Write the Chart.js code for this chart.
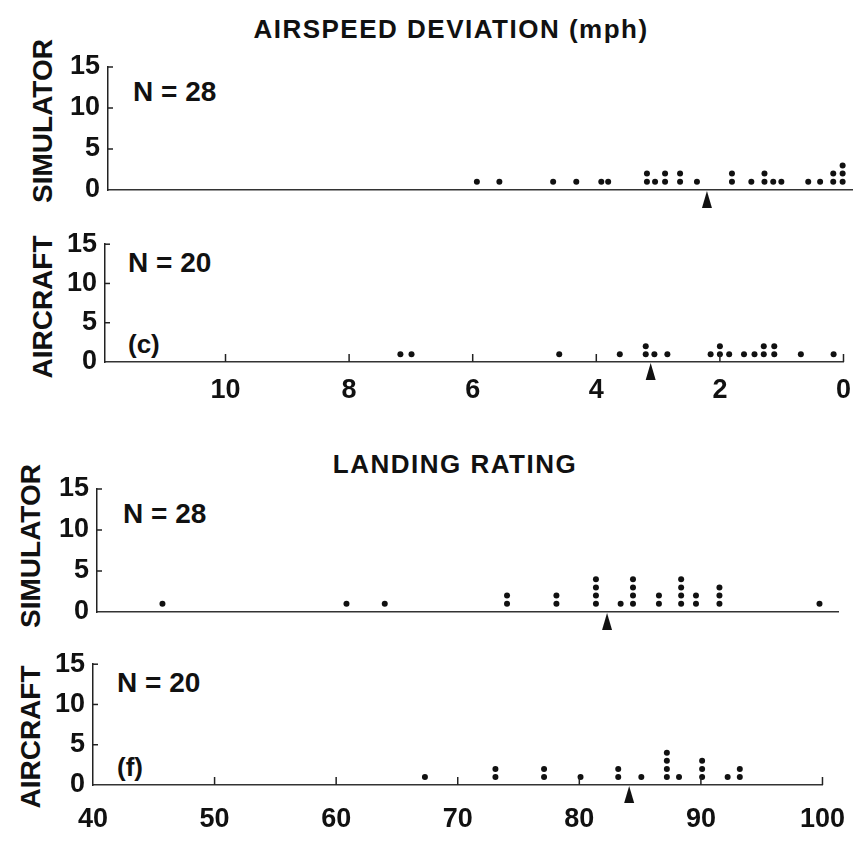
<!DOCTYPE html>
<html>
<head>
<meta charset="utf-8">
<title>Airspeed deviation and landing rating</title>
<script src="https://cdn.jsdelivr.net/npm/chart.js@4.4.0/dist/chart.umd.min.js"></script>
<style>
  body { margin: 0; background: #fff; }
  #page {
    position: relative; width: 863px; height: 845px; overflow: hidden;
    font-family: 'Liberation Sans', Arial, sans-serif; font-weight: bold; color: #111;
  }
  canvas { position: absolute; left: 0; }
  .title { position: absolute; white-space: nowrap; line-height: 1; font-size: 26px;
           letter-spacing: 1.5px; transform: translate(-50%, -50%); }
  .side { position: absolute; white-space: nowrap; line-height: 1; font-size: 28px;
          transform: translate(-50%, -50%) rotate(-90deg); }
  .lab { position: absolute; white-space: nowrap; line-height: 1; font-size: 28px;
         transform: translateY(-50%); }
  .tag { font-size: 26px; }
</style>
</head>
<body>
<div id="page">
  <div class="title" style="left:451px; top:29px;">AIRSPEED DEVIATION (mph)</div>
  <div class="side" style="left:43px; top:121px;">SIMULATOR</div>
  <div class="side" style="left:43px; top:307px;">AIRCRAFT</div>
  <div class="lab" id="nAirSim" style="left:133px; top:92px;"></div>
  <div class="lab" id="nAirAc" style="left:128px; top:263px;"></div>
  <div class="lab tag" style="left:128px; top:344px;">(c)</div>

  <div class="title" style="left:455px; top:464px;">LANDING RATING</div>
  <div class="side" style="left:31px; top:546px;">SIMULATOR</div>
  <div class="side" style="left:31px; top:737px;">AIRCRAFT</div>
  <div class="lab" id="nLandSim" style="left:123px; top:514px;"></div>
  <div class="lab" id="nLandAc" style="left:117px; top:683px;"></div>
  <div class="lab tag" style="left:117px; top:767px;">(f)</div>

  <canvas id="airSim" width="863" height="180" style="top:40px;"></canvas>
  <canvas id="airAc" width="863" height="210" style="top:220px;"></canvas>
  <canvas id="landSim" width="863" height="200" style="top:440px;"></canvas>
  <canvas id="landAc" width="863" height="205" style="top:640px;"></canvas>
</div>
<script>
// Airspeed deviation (mph): column positions and number of pilots in each column
const airSimValues = [6.0, 5.64, 4.78, 4.41, 4.01, 3.9, 3.28, 3.15, 2.99, 2.75, 2.48, 1.92, 1.61, 1.4, 1.26, 1.13, 0.7, 0.51, 0.3, 0.15];
const airSimCounts = [1, 1, 1, 1, 1, 1, 2, 1, 2, 2, 1, 2, 1, 2, 1, 1, 1, 1, 2, 3];
const airSimMean = 2.32;

const airAcValues = [7.17, 6.99, 4.6, 3.62, 3.2, 3.06, 2.85, 2.15, 2.0, 1.85, 1.61, 1.44, 1.29, 1.12, 0.69, 0.16];
const airAcCounts = [1, 1, 1, 1, 2, 1, 1, 1, 2, 1, 1, 1, 2, 2, 1, 1];
const airAcMean = 3.12;

// Landing rating
const landSimValues = [45.3, 60.2, 63.3, 73.2, 77.2, 80.4, 82.4, 83.4, 85.5, 87.3, 88.5, 90.4, 98.5];
const landSimCounts = [1, 1, 1, 2, 2, 4, 1, 4, 2, 4, 2, 3, 1];
const landSimMean = 81.3;

const landAcValues = [67.3, 73.1, 77.1, 80.1, 83.2, 85.1, 87.2, 88.2, 90.1, 92.2, 93.2];
const landAcCounts = [1, 2, 2, 1, 2, 1, 4, 1, 3, 1, 2];
const landAcMean = 84.1;

// Tick labels
const freqTicks = [0, 5, 10, 15];
const airTicks = [10, 8, 6, 4, 2, 0];
const landTicks = [40, 50, 60, 70, 80, 90, 100];

const ink = '#111';
const tickFont = { family: "'Liberation Sans', Arial, sans-serif", size: 27, weight: 'bold' };

// one dot per pilot, stacked upward in each column
function stackPoints(values, counts) {
    const pts = [];
    values.forEach((v, i) => {
        for (let k = 1; k <= counts[i]; k++) pts.push({ x: v, y: k });
    });
    return pts;
}

const sum = arr => arr.reduce((a, b) => a + b, 0);

// inward tick marks and the mean arrow below the axis
const panelMarks = {
    id: 'panelMarks',
    afterDatasetsDraw(chart, args, opts) {
        const { ctx, chartArea } = chart;
        const x = chart.scales.x, y = chart.scales.y;
        ctx.save();
        ctx.strokeStyle = '#222';
        ctx.lineWidth = 1.5;
        freqTicks.slice(1).forEach(v => {
            const py = y.getPixelForValue(v);
            ctx.beginPath();
            ctx.moveTo(chartArea.left, py);
            ctx.lineTo(chartArea.left + 5, py);
            ctx.stroke();
        });
        (opts.xMarks || []).forEach(v => {
            const px = x.getPixelForValue(v);
            ctx.beginPath();
            ctx.moveTo(px, chartArea.bottom);
            ctx.lineTo(px, chartArea.bottom - 8);
            ctx.stroke();
        });
        const mx = x.getPixelForValue(opts.mean);
        const top = chartArea.bottom + 1;
        ctx.fillStyle = ink;
        ctx.beginPath();
        ctx.moveTo(mx, top);
        ctx.lineTo(mx + 5, top + 17);
        ctx.lineTo(mx - 5, top + 17);
        ctx.closePath();
        ctx.fill();
        ctx.restore();
    }
};

function makePanel(id, cfg) {
    return new Chart(document.getElementById(id), {
        type: 'scatter',
        data: {
            datasets: [{
                data: stackPoints(cfg.values, cfg.counts),
                backgroundColor: ink,
                borderColor: ink,
                borderWidth: 0,
                pointRadius: 3,
                pointHoverRadius: 3
            }]
        },
        options: {
            responsive: false,
            animation: false,
            events: [],
            layout: { padding: cfg.padding },
            plugins: {
                legend: { display: false },
                tooltip: { enabled: false },
                panelMarks: { mean: cfg.mean, xMarks: cfg.xMarks }
            },
            scales: {
                x: {
                    type: 'linear',
                    min: cfg.min,
                    max: cfg.max,
                    reverse: cfg.reverse,
                    border: { color: '#333', width: 1.5 },
                    grid: { display: false, drawTicks: false },
                    ticks: { display: cfg.showTicks, padding: cfg.labelPad, font: tickFont, color: ink, maxRotation: 0 },
                    afterBuildTicks: s => { s.ticks = cfg.ticks.map(v => ({ value: v })); },
                    afterFit: s => { s.height = cfg.showTicks ? cfg.axisHeight : 0; }
                },
                y: {
                    min: 0,
                    max: 15,
                    border: { color: '#222', width: 1.5 },
                    grid: { display: false, drawTicks: false },
                    ticks: { padding: 8, font: tickFont, color: ink },
                    afterBuildTicks: s => { s.ticks = freqTicks.map(v => ({ value: v })); },
                    afterFit: s => { s.width = 40; }
                }
            }
        },
        plugins: [panelMarks]
    });
}

makePanel('airSim', {
    values: airSimValues, counts: airSimCounts, mean: airSimMean,
    min: 0, max: 11.9, reverse: true, ticks: airTicks, showTicks: false, xMarks: [],
    padding: { left: 68, right: 11, top: 27, bottom: 30 }
});
makePanel('airAc', {
    values: airAcValues, counts: airAcCounts, mean: airAcMean,
    min: 0, max: 11.95, reverse: true, ticks: airTicks, showTicks: true, xMarks: airTicks,
    labelPad: 12, axisHeight: 42,
    padding: { left: 65, right: 11, top: 18, bottom: 26 }
});
makePanel('landSim', {
    values: landSimValues, counts: landSimCounts, mean: landSimMean,
    min: 40, max: 100, reverse: false, ticks: landTicks, showTicks: false, xMarks: [],
    padding: { left: 57, right: 25, top: 49, bottom: 28 }
});
makePanel('landAc', {
    values: landAcValues, counts: landAcCounts, mean: landAcMean,
    min: 40, max: 100, reverse: false, ticks: landTicks, showTicks: true, xMarks: landTicks.slice(1),
    labelPad: 18, axisHeight: 47,
    padding: { left: 53, right: 27, top: 23, bottom: 13 }
});

document.getElementById('nAirSim').textContent = 'N = ' + sum(airSimCounts);
document.getElementById('nAirAc').textContent = 'N = ' + sum(airAcCounts);
document.getElementById('nLandSim').textContent = 'N = ' + sum(landSimCounts);
document.getElementById('nLandAc').textContent = 'N = ' + sum(landAcCounts);
</script>
</body>
</html>
